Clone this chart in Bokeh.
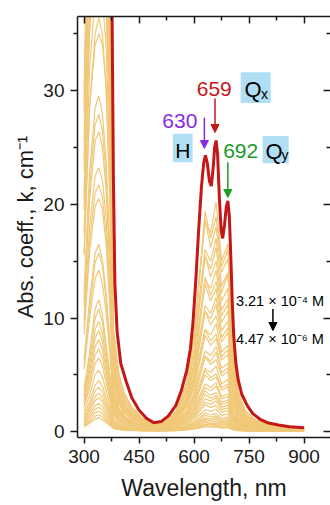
from bokeh.plotting import figure
from bokeh.models import (LinearAxis, FixedTicker, Label, Arrow, NormalHead,
                          BoxAnnotation, Range1d, CustomLabelingPolicy)
from bokeh.embed import file_html
from bokeh.resources import INLINE

# ---------------- data ----------------
x_ticks = [300, 450, 600, 750, 900]
x_minor = [375, 525, 675, 825]
y_ticks = [0, 10, 20, 30]
y_minor = [5, 15, 25, 35]

# highest concentration spectrum (3.21e-4 M)
red_wl = [300, 320, 340, 360, 370, 376, 380, 384, 390, 400, 415, 430, 450, 470, 490,
          510, 530, 550, 565, 580, 590, 597, 605, 612, 620, 626, 631, 636, 642, 647,
          652, 656, 660, 664, 669, 674, 678, 683, 688, 692, 696, 700, 704, 708, 714,
          720, 730, 745, 760, 780, 800, 830, 860, 900]
red_k = [60, 75, 80, 78, 60, 38, 22, 13, 8.8, 6.0, 4.4, 3.0, 1.9, 1.2, 0.8,
         0.9, 1.4, 2.3, 3.6, 5.4, 7.3, 9.6, 13.5, 17.5, 21.5, 23.6, 24.3, 23.6, 22.0, 21.6,
         23.2, 25.0, 25.6, 24.4, 20.5, 17.6, 17.0, 18.2, 19.8, 20.3, 19.0, 15.5, 11.5, 8.5, 6.0,
         4.6, 3.3, 2.3, 1.6, 1.1, 0.8, 0.6, 0.45, 0.35]

# dilution series (down to 4.47e-6 M)
orange_wl = [300, 315, 330, 340, 350, 360, 370, 380, 395, 410, 430, 460, 490, 520, 550,
             580, 600, 615, 630, 645, 660, 675, 692, 705, 720, 740, 770, 820, 900]
k_c01 = [30, 55, 65, 67, 65, 59, 40, 9.1, 5.1, 3.4, 2.2, 1.2, 0.8, 0.9, 1.8, 4.4, 8.5, 14.0, 18.4, 17.5, 20.2, 15.0, 16.5, 8.5, 3.6, 1.8, 1.0, 0.6, 0.4]
k_c02 = [28, 50, 60, 62, 60, 54, 37, 8.4, 4.7, 3.2, 2.1, 1.1, 0.75, 0.85, 1.7, 4.2, 8.3, 13.5, 18.7, 16.2, 18.0, 14.0, 15.2, 7.8, 3.4, 1.7, 0.95, 0.55, 0.38]
k_c03 = [25.5, 46, 54, 56, 54, 49, 34, 7.7, 4.3, 2.9, 1.9, 1.0, 0.7, 0.8, 1.6, 3.8, 7.3, 12.0, 16.0, 15.0, 17.0, 12.8, 14.0, 7.1, 3.1, 1.5, 0.85, 0.5, 0.34]
k_c04 = [23, 42, 50, 51, 50, 45, 31, 7.0, 3.9, 2.6, 1.7, 0.95, 0.65, 0.75, 1.5, 3.5, 6.8, 11.2, 15.5, 13.6, 15.0, 11.5, 12.6, 6.5, 2.8, 1.4, 0.8, 0.47, 0.31]
k_c05 = [21, 38, 45, 47, 45, 41, 28, 6.4, 3.6, 2.4, 1.6, 0.9, 0.6, 0.7, 1.35, 3.2, 6.1, 10.0, 13.4, 12.6, 14.2, 10.7, 11.7, 6.0, 2.6, 1.3, 0.72, 0.43, 0.29]
k_c06 = [19.5, 35, 41.5, 43, 41.5, 37.5, 26, 5.9, 3.3, 2.2, 1.45, 0.8, 0.56, 0.65, 1.25, 2.9, 5.6, 9.3, 13.0, 11.5, 12.6, 9.6, 10.6, 5.5, 2.4, 1.2, 0.66, 0.4, 0.27]
k_c07 = [17.5, 32, 38, 39, 38, 34, 23.5, 5.4, 3.0, 2.0, 1.3, 0.75, 0.52, 0.6, 1.15, 2.7, 5.1, 8.4, 11.1, 10.4, 11.8, 8.9, 9.7, 5.0, 2.2, 1.1, 0.6, 0.37, 0.25]
k_c08 = [15.5, 28.5, 34, 35, 34, 30.5, 21, 4.9, 2.8, 1.9, 1.2, 0.7, 0.5, 0.56, 1.05, 2.4, 4.6, 7.6, 10.6, 9.4, 10.2, 7.9, 8.7, 4.5, 2.0, 1.0, 0.56, 0.35, 0.24]
k_c09 = [12.4, 22.8, 28.5, 29.5, 28, 23.8, 16.2, 4.8, 2.7, 1.8, 1.2, 0.76, 0.57, 0.66, 1.14, 2.5, 4.4, 6.8, 9.0, 8.5, 9.5, 7.0, 7.6, 3.9, 1.8, 0.95, 0.62, 0.43, 0.33]
k_c10 = [11.0, 20.4, 25.5, 26.4, 25, 21.3, 14.5, 4.3, 2.4, 1.6, 1.1, 0.68, 0.51, 0.6, 1.02, 2.2, 3.9, 6.1, 8.5, 7.6, 8.2, 6.3, 6.8, 3.5, 1.6, 0.85, 0.55, 0.38, 0.3]
k_c11 = [9.8, 18, 22.5, 23.2, 22.1, 18.8, 12.8, 3.8, 2.1, 1.4, 0.98, 0.6, 0.45, 0.52, 0.9, 1.95, 3.45, 5.4, 7.1, 6.7, 7.5, 5.6, 6.0, 3.1, 1.4, 0.75, 0.49, 0.34, 0.26]
k_c12 = [8.6, 15.8, 19.8, 20.5, 19.5, 16.5, 11.2, 3.3, 1.85, 1.25, 0.86, 0.53, 0.4, 0.46, 0.8, 1.7, 3.0, 4.75, 6.6, 5.9, 6.35, 4.9, 5.3, 2.7, 1.25, 0.66, 0.43, 0.3, 0.23]
k_c13 = [6.4, 11.6, 15.7, 16.5, 15.1, 12.2, 8.1, 3.2, 1.8, 1.28, 0.87, 0.58, 0.46, 0.49, 0.75, 1.6, 2.8, 4.2, 5.6, 5.2, 5.8, 4.2, 4.6, 2.3, 1.16, 0.64, 0.46, 0.35, 0.29]
k_c14 = [5.5, 10, 13.5, 14.2, 13, 10.5, 7.0, 2.75, 1.55, 1.1, 0.75, 0.5, 0.4, 0.42, 0.65, 1.4, 2.4, 3.65, 5.0, 4.5, 4.8, 3.65, 3.95, 2.0, 1.0, 0.55, 0.4, 0.3, 0.25]
k_c15 = [3.9, 6.9, 10.8, 11.6, 10.3, 7.7, 5.2, 2.6, 1.5, 1.08, 0.77, 0.52, 0.43, 0.43, 0.65, 1.3, 2.15, 3.2, 4.2, 3.9, 4.3, 3.1, 3.35, 1.7, 0.86, 0.52, 0.39, 0.3, 0.26]
k_c16 = [3.2, 5.8, 9.0, 9.7, 8.6, 6.5, 4.3, 2.2, 1.26, 0.9, 0.65, 0.43, 0.36, 0.36, 0.54, 1.08, 1.8, 2.7, 3.6, 3.2, 3.45, 2.6, 2.8, 1.44, 0.72, 0.43, 0.32, 0.25, 0.22]
k_c17 = [2.7, 4.8, 7.5, 8.1, 7.2, 5.4, 3.6, 1.8, 1.05, 0.75, 0.54, 0.36, 0.3, 0.3, 0.45, 0.9, 1.5, 2.25, 2.9, 2.7, 3.0, 2.16, 2.34, 1.2, 0.6, 0.36, 0.27, 0.21, 0.18]
k_c18 = [2.2, 3.85, 6.0, 6.5, 5.8, 4.3, 2.9, 1.45, 0.85, 0.6, 0.45, 0.3, 0.25, 0.25, 0.37, 0.72, 1.2, 1.8, 2.4, 2.15, 2.3, 1.73, 1.87, 0.96, 0.5, 0.3, 0.23, 0.18, 0.15]
k_c19 = [1.8, 3.2, 5.0, 5.4, 4.8, 3.6, 2.4, 1.2, 0.7, 0.5, 0.37, 0.25, 0.21, 0.21, 0.31, 0.6, 1.0, 1.5, 1.94, 1.8, 2.0, 1.44, 1.56, 0.8, 0.41, 0.25, 0.19, 0.15, 0.13]
k_c20 = [1.5, 2.65, 4.1, 4.5, 4.0, 3.0, 2.0, 1.0, 0.58, 0.42, 0.31, 0.21, 0.18, 0.18, 0.26, 0.5, 0.83, 1.24, 1.65, 1.48, 1.6, 1.19, 1.29, 0.66, 0.34, 0.21, 0.16, 0.13, 0.11]
k_c21 = [1.15, 2.0, 3.1, 3.4, 3.0, 2.25, 1.5, 0.76, 0.45, 0.33, 0.24, 0.17, 0.15, 0.15, 0.2, 0.38, 0.63, 0.94, 1.21, 1.13, 1.25, 0.9, 0.98, 0.5, 0.26, 0.16, 0.12, 0.1, 0.09]
k_c22 = [0.86, 1.5, 2.3, 2.5, 2.25, 1.68, 1.12, 0.57, 0.34, 0.25, 0.19, 0.14, 0.12, 0.12, 0.16, 0.29, 0.47, 0.7, 0.93, 0.84, 0.9, 0.67, 0.73, 0.38, 0.2, 0.13, 0.1, 0.08, 0.07]
k_c23 = [0.62, 1.08, 1.68, 1.8, 1.6, 1.2, 0.81, 0.42, 0.25, 0.19, 0.15, 0.11, 0.1, 0.1, 0.13, 0.22, 0.34, 0.5, 0.65, 0.61, 0.67, 0.49, 0.53, 0.28, 0.15, 0.1, 0.08, 0.07, 0.06]
k_c24 = [0.45, 0.75, 1.12, 1.22, 1.08, 0.82, 0.56, 0.3, 0.19, 0.15, 0.12, 0.09, 0.08, 0.08, 0.1, 0.16, 0.24, 0.35, 0.45, 0.41, 0.44, 0.33, 0.36, 0.19, 0.11, 0.08, 0.07, 0.06, 0.05]
k_c25 = [29, 52, 62, 64, 62, 56, 39, 8.7, 4.9, 3.3, 2.1, 1.15, 0.78, 0.87, 1.75, 4.3, 8.1, 13.6, 19.4, 17.0, 18.9, 14.5, 16.0, 8.2, 3.5, 1.75, 0.97, 0.58, 0.39]
k_c26 = [24, 44, 52, 53, 52, 47, 32.5, 7.3, 4.1, 2.75, 1.8, 0.97, 0.65, 0.73, 1.45, 3.6, 6.8, 11.3, 15.4, 14.3, 16.2, 12.2, 13.9, 6.8, 2.9, 1.45, 0.81, 0.49, 0.32]
k_c27 = [20.4, 36.7, 43.5, 45, 43.5, 39.4, 27.2, 6.1, 3.4, 2.3, 1.5, 0.82, 0.54, 0.61, 1.22, 3.0, 5.7, 9.5, 13.6, 12.0, 13.2, 10.2, 11.2, 5.7, 2.45, 1.22, 0.68, 0.41, 0.27]
k_c28 = [15.7, 28.6, 35, 36.4, 35, 30.2, 20.7, 5.3, 3.0, 2.0, 1.35, 0.78, 0.56, 0.64, 1.2, 2.7, 4.9, 7.9, 10.6, 9.9, 11.2, 8.3, 9.1, 4.6, 2.1, 1.1, 0.64, 0.43, 0.31]
k_c29 = [11.7, 21.6, 27, 27.9, 26.5, 22.5, 15.3, 4.5, 2.5, 1.7, 1.17, 0.72, 0.54, 0.63, 1.08, 2.3, 4.1, 6.5, 9.0, 8.0, 8.6, 6.6, 7.2, 3.7, 1.7, 0.9, 0.58, 0.4, 0.31]
k_c30 = [9.1, 16.8, 21, 21.7, 20.6, 17.5, 11.9, 3.5, 1.96, 1.33, 0.91, 0.56, 0.42, 0.49, 0.84, 1.8, 3.2, 5.0, 6.65, 6.2, 7.0, 5.2, 5.6, 2.9, 1.33, 0.7, 0.46, 0.32, 0.25]
k_c31 = [5.9, 10.8, 14.9, 15.7, 14.6, 11.6, 7.8, 3.0, 1.67, 1.19, 0.81, 0.54, 0.43, 0.46, 0.73, 1.5, 2.6, 3.9, 5.4, 4.75, 5.1, 3.9, 4.2, 2.16, 1.08, 0.59, 0.43, 0.32, 0.27]
k_c32 = [3.6, 6.4, 10.0, 10.8, 9.6, 7.2, 4.8, 2.4, 1.4, 1.0, 0.72, 0.48, 0.4, 0.4, 0.6, 1.2, 2.0, 3.0, 3.9, 3.6, 4.0, 2.9, 3.1, 1.6, 0.8, 0.48, 0.36, 0.28, 0.24]
k_c33 = [3.0, 5.3, 8.25, 8.9, 7.9, 5.9, 4.0, 2.0, 1.15, 0.83, 0.59, 0.4, 0.33, 0.33, 0.5, 1.0, 1.65, 2.5, 3.3, 2.95, 3.15, 2.4, 2.6, 1.32, 0.66, 0.4, 0.3, 0.23, 0.2]
k_c34 = [2.4, 4.3, 6.75, 7.3, 6.5, 4.9, 3.25, 1.6, 0.95, 0.68, 0.49, 0.32, 0.27, 0.27, 0.4, 0.81, 1.35, 2.0, 2.6, 2.43, 2.7, 1.95, 2.1, 1.08, 0.54, 0.32, 0.24, 0.19, 0.16]
k_c35 = [1.3, 2.3, 3.6, 3.9, 3.5, 2.6, 1.74, 0.87, 0.51, 0.37, 0.27, 0.19, 0.16, 0.16, 0.22, 0.44, 0.73, 1.09, 1.45, 1.3, 1.4, 1.05, 1.13, 0.58, 0.3, 0.18, 0.14, 0.11, 0.1]
k_c36 = [1.0, 1.76, 2.75, 3.0, 2.64, 2.0, 1.32, 0.66, 0.39, 0.29, 0.21, 0.15, 0.13, 0.13, 0.18, 0.34, 0.56, 0.83, 1.07, 0.99, 1.1, 0.8, 0.86, 0.44, 0.23, 0.14, 0.11, 0.09, 0.08]
k_c37 = [0.74, 1.3, 2.0, 2.15, 1.92, 1.44, 0.96, 0.49, 0.29, 0.22, 0.17, 0.12, 0.11, 0.11, 0.14, 0.25, 0.4, 0.6, 0.8, 0.72, 0.77, 0.58, 0.63, 0.33, 0.17, 0.11, 0.09, 0.07, 0.06]
k_c38 = [0.52, 0.9, 1.38, 1.5, 1.32, 1.0, 0.67, 0.35, 0.22, 0.17, 0.13, 0.1, 0.09, 0.09, 0.11, 0.19, 0.28, 0.41, 0.53, 0.5, 0.55, 0.4, 0.43, 0.23, 0.13, 0.09, 0.07, 0.06, 0.05]

orange_series = [k_c01, k_c02, k_c03, k_c04, k_c05, k_c06, k_c07, k_c08, k_c09, k_c10,
                 k_c11, k_c12, k_c13, k_c14, k_c15, k_c16, k_c17, k_c18, k_c19, k_c20,
                 k_c21, k_c22, k_c23, k_c24, k_c25, k_c26, k_c27, k_c28, k_c29, k_c30,
                 k_c31, k_c32, k_c33, k_c34, k_c35, k_c36, k_c37, k_c38]

# ---------------- style ----------------
FONT = "Liberation Sans"
INK = "#1a1a1a"
ORANGE = "#F0C878"
RED = "#C41818"
PURPLE = "#8A2BE2"
GREEN = "#1E9A28"
BOXBLUE = "#B0DFF5"

p = figure(width=330, height=505, x_range=Range1d(282, 972), y_range=Range1d(-0.5, 36.5),
           output_backend="svg", toolbar_location=None,
           min_border_left=77, min_border_right=0, min_border_top=16, min_border_bottom=68,
           x_axis_label="Wavelength, nm", y_axis_label="Abs. coeff., k, cm\u207b\u00b9")
p.outline_line_color = None
p.grid.visible = False
p.background_fill_color = "white"
p.border_fill_color = "white"

for ks in orange_series:
    p.line(orange_wl, ks, line_color=ORANGE, line_width=1.2)
p.line(red_wl, red_k, line_color=RED, line_width=3)

def style_axis(ax, tick_out, minor_out, tick_in=0, minor_in=0):
    ax.axis_line_color = INK
    ax.axis_line_width = 1.5
    ax.major_tick_line_color = INK
    ax.minor_tick_line_color = INK
    ax.major_tick_line_width = 1.5
    ax.minor_tick_line_width = 1.5
    ax.major_tick_out = tick_out
    ax.major_tick_in = tick_in
    ax.minor_tick_out = minor_out
    ax.minor_tick_in = minor_in

xa = p.xaxis[0]
xa.ticker = FixedTicker(ticks=x_ticks, minor_ticks=x_minor)
style_axis(xa, 6, 4)
xa.major_label_text_font = FONT
xa.major_label_text_font_size = "19px"
xa.major_label_text_color = INK
xa.major_label_standoff = 6
xa.axis_label_text_font = FONT
xa.axis_label_text_font_size = "23px"
xa.axis_label_text_font_style = "normal"
xa.axis_label_text_color = INK
xa.axis_label_standoff = 9

ya = p.yaxis[0]
ya.ticker = FixedTicker(ticks=y_ticks, minor_ticks=y_minor)
style_axis(ya, 7, 4)
ya.major_label_text_font = FONT
ya.major_label_text_font_size = "19px"
ya.major_label_text_color = INK
ya.major_label_standoff = 6
ya.axis_label_text_font = FONT
ya.axis_label_text_font_size = "22px"
ya.axis_label_text_font_style = "normal"
ya.axis_label_text_color = INK
ya.axis_label_standoff = 2

# mirrored tick marks (no labels) on top and right
top = LinearAxis(ticker=FixedTicker(ticks=x_ticks, minor_ticks=x_minor),
                 major_label_standoff=0, major_label_text_font_size="0px",
                 major_label_policy=CustomLabelingPolicy(code="return []"))
style_axis(top, 0, 0, 7, 4)
p.add_layout(top, "above")

right = LinearAxis(ticker=FixedTicker(ticks=y_ticks, minor_ticks=y_minor),
                   major_label_standoff=0, major_label_text_font_size="0px",
                   major_label_policy=CustomLabelingPolicy(code="return []"))
style_axis(right, 0, 0, 7, 4)
right.axis_line_color = None
p.add_layout(right, "right")

# ---------------- annotations ----------------
for (l, r, b, t) in [(727, 809, 28.9, 31.6), (542, 596, 23.7, 26.2), (787, 858, 23.6, 26.0)]:
    p.add_layout(BoxAnnotation(left=l, right=r, bottom=b, top=t, fill_color=BOXBLUE,
                               fill_alpha=1.0, line_color=None, level="overlay"))

def label(x, y, text, color, size, align="center"):
    p.add_layout(Label(x=x, y=y, y_offset=7, text=text, text_color=color, text_font=FONT,
                       text_font_size=size, text_align=align, text_baseline="alphabetic",
                       level="overlay"))

label(655, 29.5, "659", RED, "21px")
label(561, 26.7, "630", PURPLE, "21px")
label(727, 24.1, "692", GREEN, "21px")
label(761, 29.47, "Q", "black", "22px")
label(792, 29.1, "x", "black", "14px")
label(569, 24.1, "H", "black", "21px")
label(818, 24.02, "Q", "black", "22px")
label(848, 23.7, "y", "black", "14px")
label(714, 10.9, "3.21 \u00d7 10\u207b\u2074 M", "black", "14.5px", "left")
label(714, 7.57, "4.47 \u00d7 10\u207b\u2076 M", "black", "14.5px", "left")

def arrow(x, y0, y1, color):
    p.add_layout(Arrow(end=NormalHead(size=8, fill_color=color, line_color=color, line_width=1),
                       x_start=x, y_start=y0, x_end=x, y_end=y1,
                       line_color=color, line_width=1.5, level="overlay"))

arrow(628, 27.6, 24.9, PURPLE)
arrow(657, 29.3, 26.3, RED)
arrow(692, 23.7, 20.6, GREEN)
arrow(815, 10.8, 8.9, "black")

open("out.html", "w").write(file_html(p, INLINE))
